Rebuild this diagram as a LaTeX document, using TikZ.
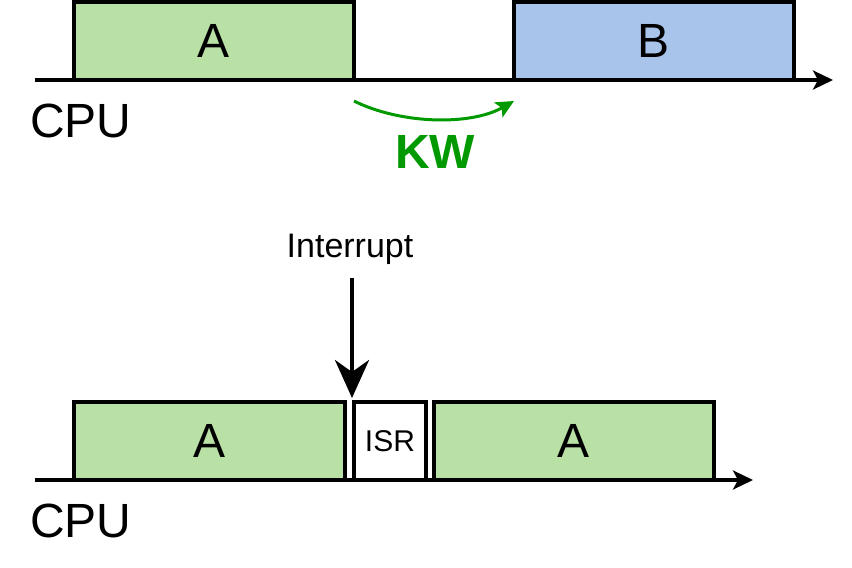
\documentclass[tikz,border=0pt]{standalone}
\usepackage{fontspec}
\setmainfont{Liberation Sans}
\usetikzlibrary{arrows.meta}
\definecolor{boxgreen}{HTML}{B9E0A5}
\definecolor{boxblue}{HTML}{A9C4EB}
\definecolor{kwgreen}{HTML}{009900}
\tikzset{
  task/.style={draw=black, line width=3.5pt, minimum height=78pt, inner sep=0pt, outer sep=0pt,
    font=\fontsize{48}{56}\selectfont},
  axisline/.style={draw=black, line width=3.5pt, -{Stealth[length=20pt,width=19pt,inset=5pt]}},
  cpulabel/.style={font=\fontsize{48}{56}\selectfont, anchor=base, inner sep=0pt},
}
\begin{document}
\begin{tikzpicture}[x=1pt,y=-1pt]
\useasboundingbox (0,0) rectangle (852,568);
% top timeline
\node[task, fill=boxgreen, minimum width=280pt] (a1) at (214,41) {A};
\node[task, fill=boxblue, minimum width=280pt] (b1) at (654,41) {B};
\coordinate (t0) at (35,80);
\coordinate (t1) at (833,80);
\draw[axisline] (t0) -- (t1);
\node[cpulabel] (cpu1) at (81,137) {CPU};
\coordinate (kw0) at (354,101);
\coordinate (kw1) at (514,101);
\draw[kwgreen, line width=3pt, -{Stealth[length=18pt,width=17pt,inset=4pt]}]
  (kw0) .. controls (400,124) and (470,126) .. (kw1);
\node[font=\bfseries\fontsize{48}{56}\selectfont, text=kwgreen, anchor=base, inner sep=0pt] (kw) at (435,168) {KW};
% bottom timeline
\node[font=\fontsize{34}{40}\selectfont, anchor=base, inner sep=0pt] (intlabel) at (350,257) {Interrupt};
\coordinate (irq0) at (352,278);
\coordinate (irq1) at (352,398);
\draw[line width=4pt, -{Stealth[length=38pt,width=34pt,inset=12pt]}] (irq0) -- (irq1);
\node[task, fill=boxgreen, minimum width=271pt] (a2) at (209.5,441) {A};
\node[task, fill=white, minimum width=72pt, font=\fontsize{30}{36}\selectfont] (isr) at (390,441) {ISR};
\node[task, fill=boxgreen, minimum width=280pt] (a3) at (574,441) {A};
\coordinate (b0) at (35,480);
\coordinate (b1e) at (753,480);
\draw[axisline] (b0) -- (b1e);
\node[cpulabel] (cpu2) at (81,537) {CPU};
\end{tikzpicture}
\end{document}
